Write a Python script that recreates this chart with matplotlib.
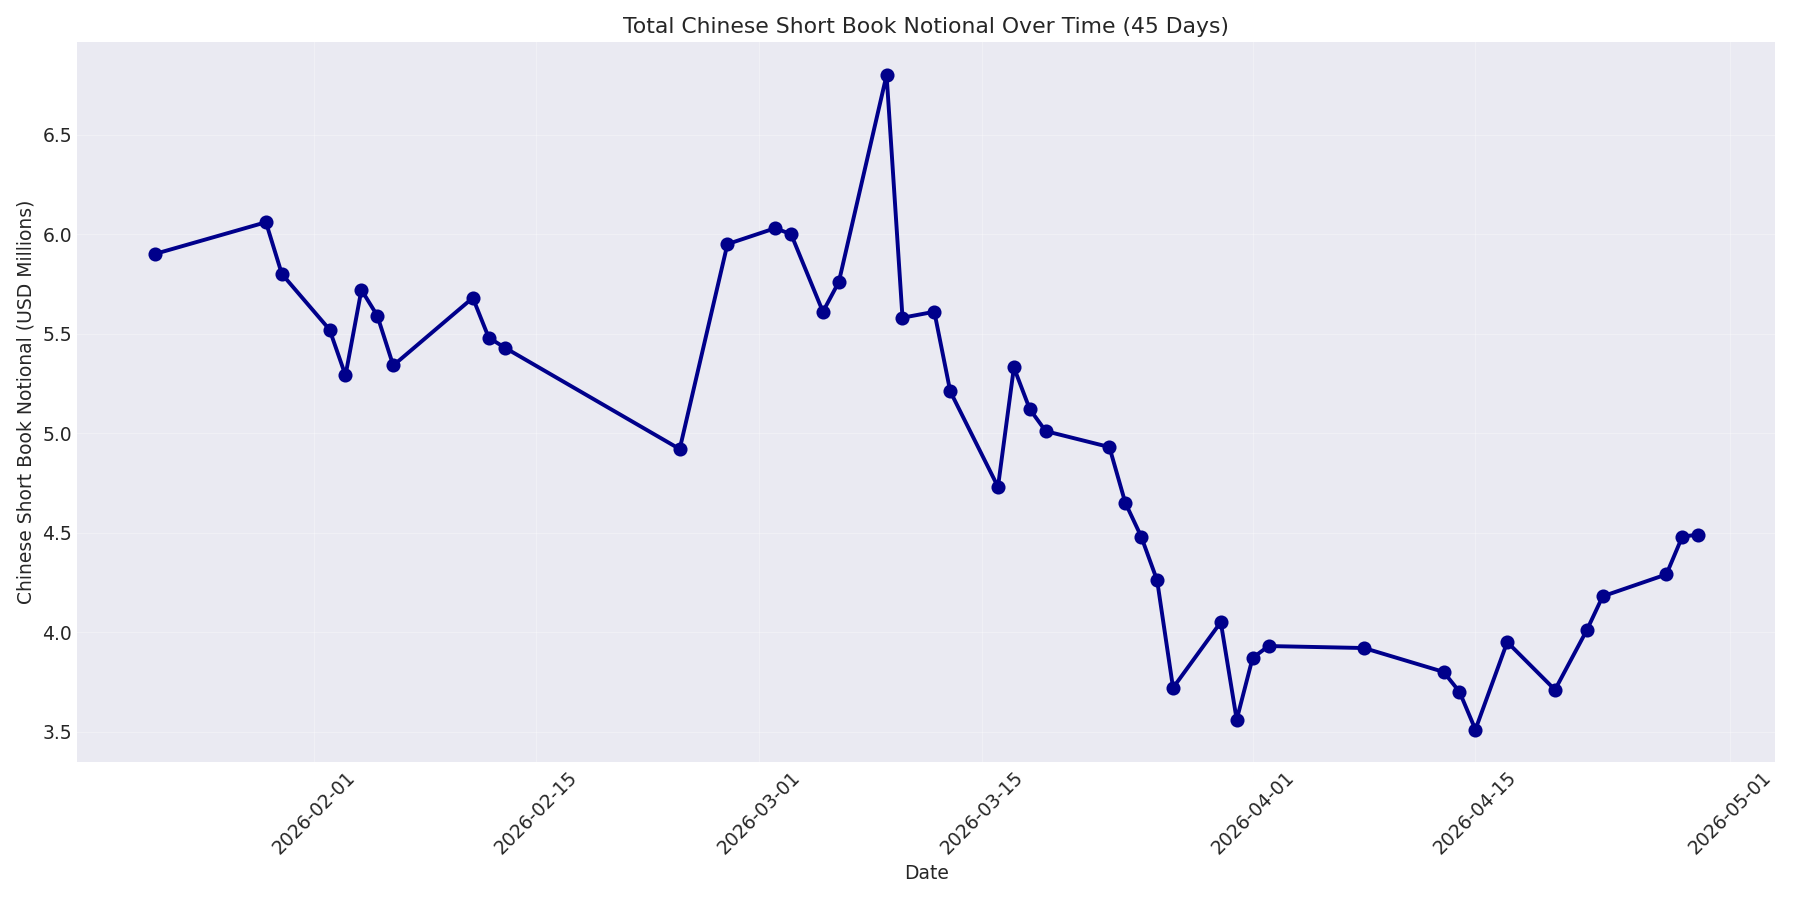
import matplotlib
matplotlib.use("Agg")
import matplotlib.pyplot as plt
import pandas as pd

dates = ["2026-01-22","2026-01-29","2026-01-30","2026-02-02","2026-02-03","2026-02-04","2026-02-05","2026-02-06",
         "2026-02-11","2026-02-12","2026-02-13","2026-02-24","2026-02-27","2026-03-02","2026-03-03","2026-03-05",
         "2026-03-06","2026-03-09","2026-03-10","2026-03-12","2026-03-13","2026-03-16","2026-03-17","2026-03-18",
         "2026-03-19","2026-03-23","2026-03-24","2026-03-25","2026-03-26","2026-03-27","2026-03-30","2026-03-31",
         "2026-04-01","2026-04-02","2026-04-08","2026-04-13","2026-04-14","2026-04-15","2026-04-17","2026-04-20",
         "2026-04-22","2026-04-23","2026-04-27","2026-04-28","2026-04-29"]
values = [5.90,6.06,5.80,5.52,5.29,5.72,5.59,5.34,5.68,5.48,5.43,4.92,5.95,6.03,6.00,5.61,5.76,6.80,5.58,5.61,
          5.21,4.73,5.33,5.12,5.01,4.93,4.65,4.48,4.26,3.72,4.05,3.56,3.87,3.93,3.92,3.80,3.70,3.51,3.95,3.71,
          4.01,4.18,4.29,4.48,4.49]

plt.style.use("seaborn-v0_8-darkgrid")
plt.rcParams['font.family'] = ['DejaVu Sans']
fig, ax = plt.subplots(figsize=(16, 8), dpi=112.5)
ax.plot(pd.to_datetime(dates), values, color="darkblue", linewidth=2.5, marker="o", markersize=8)
ax.grid(True, alpha=0.3)
ax.set_title("Total Chinese Short Book Notional Over Time (45 Days)", fontsize=14)
ax.set_xlabel("Date", fontsize=12)
ax.set_ylabel("Chinese Short Book Notional (USD Millions)", fontsize=12)
ax.tick_params(labelsize=12)
plt.setp(ax.get_xticklabels(), rotation=45)
fig.tight_layout()
fig.savefig("out.png")
